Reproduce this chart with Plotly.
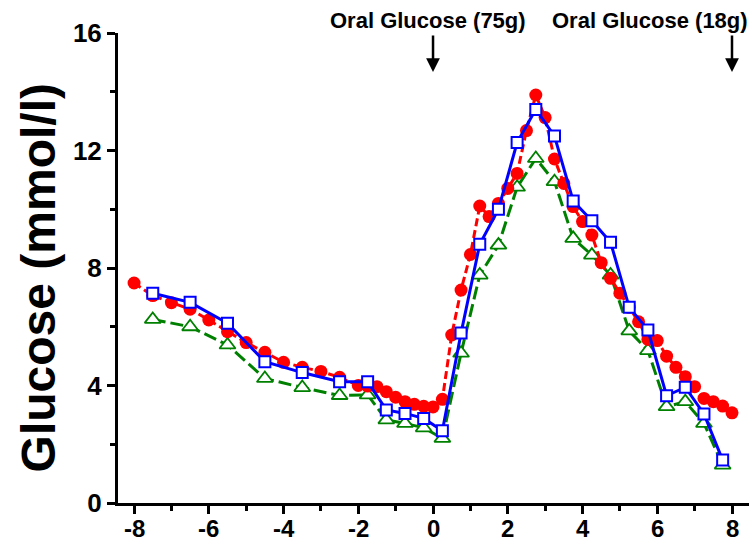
import plotly.graph_objects as go

# Red series (filled circles, dashed line)
red_x = [-8, -7.5, -7, -6.5, -6, -5.5, -5, -4.5, -4, -3.5, -3, -2.5, -2, -1.75, -1.5, -1.25,
         -1, -0.75, -0.5, -0.25, 0, 0.25, 0.5, 0.75, 1, 1.25, 1.5, 1.75, 2, 2.25, 2.5, 2.75,
         3, 3.25, 3.5, 3.75, 4, 4.25, 4.5, 4.75, 5, 5.25, 5.5, 5.75, 6, 6.25, 6.5, 6.75,
         7, 7.25, 7.5, 7.75, 8]
red_y = [7.49, 7.06, 6.82, 6.6, 6.23, 5.83, 5.46, 5.13, 4.79, 4.62, 4.48, 4.28, 4.0, 3.98, 3.96, 3.79,
         3.6, 3.45, 3.36, 3.29, 3.27, 3.53, 5.72, 7.25, 8.46, 10.11, 9.75, 10.2, 10.71, 11.22, 12.68, 13.89,
         13.12, 11.71, 10.88, 10.09, 9.58, 9.12, 8.18, 7.65, 7.14, 6.66, 6.17, 5.57, 5.53, 5.0, 4.62, 4.30,
         3.96, 3.56, 3.45, 3.30, 3.07]

# Blue series (open squares, solid line)
blue_x = [-7.5, -6.5, -5.5, -4.5, -3.5, -2.5, -1.75, -1.25, -0.75, -0.25, 0.25, 0.75, 1.25,
          1.75, 2.25, 2.75, 3.25, 3.75, 4.25, 4.75, 5.25, 5.75, 6.25, 6.75, 7.25, 7.75]
blue_y = [7.14, 6.83, 6.12, 4.81, 4.44, 4.13, 4.13, 3.17, 3.05, 2.88, 2.46, 5.79, 8.81,
          10.0, 12.27, 13.40, 12.49, 10.28, 9.61, 8.88, 6.66, 5.89, 3.65, 3.94, 3.03, 1.46]

# Green series (open triangles, long-dashed line)
green_x = [-7.5, -6.5, -5.5, -4.5, -3.5, -2.5, -1.75, -1.25, -0.75, -0.25, 0.25, 0.75, 1.25,
           1.75, 2.25, 2.75, 3.25, 3.75, 4.25, 4.75, 5.25, 5.75, 6.25, 6.75, 7.25, 7.75]
green_y = [6.25, 6.0, 5.38, 4.24, 3.93, 3.66, 3.68, 2.83, 2.71, 2.56, 2.2, 5.1, 7.76,
           8.78, 10.75, 11.73, 10.94, 9.01, 8.44, 7.76, 5.86, 5.19, 3.28, 3.45, 2.71, 1.29]

x_ticks = [-8, -6, -4, -2, 0, 2, 4, 6, 8]
x_ticktext = ["-8", "-6", "-4", "-2", "0", "2", "4", "6", "8"]
y_ticks = [0, 4, 8, 12, 16]
y_ticktext = ["0", "4", "8", "12", "16"]
event_x = [0, 8]
event_labels = ["Oral Glucose (75g)", "Oral Glucose (18g)"]
label_x = [-0.13, 5.8]

FONT = "Liberation Sans"

fig = go.Figure()
fig.add_trace(go.Scatter(
    x=green_x, y=green_y, mode="lines+markers",
    line=dict(color="#008000", width=3, dash="13px,5px"),
    marker=dict(symbol="triangle-up", size=14, color="white",
                line=dict(color="#008000", width=1.8)),
    cliponaxis=False))
fig.add_trace(go.Scatter(
    x=red_x, y=red_y, mode="lines+markers",
    line=dict(color="#FF0000", width=3, dash="8px,4px"),
    marker=dict(symbol="circle", size=13, color="#FF0000"),
    cliponaxis=False))
fig.add_trace(go.Scatter(
    x=blue_x, y=blue_y, mode="lines+markers",
    line=dict(color="#0000FF", width=3),
    marker=dict(symbol="square", size=11, color="white",
                line=dict(color="#0000FF", width=2)),
    cliponaxis=False))

annotations = []
for ex, lx, txt in zip(event_x, label_x, event_labels):
    annotations.append(dict(
        x=ex, xref="x", y=0.917, yref="paper", text="", showarrow=True,
        ax=0, ay=-38, arrowhead=2, arrowsize=1.1, arrowwidth=2.5, arrowcolor="black"))
    annotations.append(dict(
        x=lx, xref="x", y=1.026, yref="paper", text=txt, showarrow=False,
        xanchor="center", yanchor="middle",
        font=dict(family=FONT, size=22, color="black", weight="bold")))
annotations.append(dict(
    x=-0.1268, xref="paper", y=0.48, yref="paper", text="Glucose (mmol/l)",
    showarrow=False, textangle=-90, xanchor="center", yanchor="middle",
    font=dict(family=FONT, size=48, color="black", weight="bold")))
# x tick labels placed just below the tick marks
for tv, tt in zip(x_ticks, x_ticktext):
    annotations.append(dict(
        x=tv, xref="x", y=0, yref="paper", yshift=-11, text=tt, showarrow=False,
        xanchor="center", yanchor="top", borderpad=0,
        font=dict(family=FONT, size=24, color="black", weight="bold")))

axis_common = dict(
    showgrid=False, zeroline=False, showline=True, linecolor="black", linewidth=3,
    ticks="outside", ticklen=8, tickwidth=3, tickcolor="black", automargin=False,
)

fig.update_layout(
    width=749, height=546,
    margin=dict(l=118, r=0, t=33, b=43),
    plot_bgcolor="white", paper_bgcolor="white",
    showlegend=False,
    xaxis=dict(range=[-8.43, 8.455], tickmode="array", tickvals=x_ticks, showticklabels=False,
               minor=dict(ticks="outside", ticklen=5, tickwidth=3, tickcolor="black",
                          tickmode="array", tickvals=[-7, -5, -3, -1, 1, 3, 5, 7]),
               **axis_common),
    yaxis=dict(range=[0, 16], tickmode="array", tickvals=y_ticks, ticktext=y_ticktext,
               tickfont=dict(family=FONT, size=26, color="black", weight="bold"),
               minor=dict(ticks="outside", ticklen=5, tickwidth=3, tickcolor="black",
                          tickmode="array", tickvals=[2, 6, 10, 14]),
               **axis_common),
    annotations=annotations,
)

fig.write_html("out.html")
